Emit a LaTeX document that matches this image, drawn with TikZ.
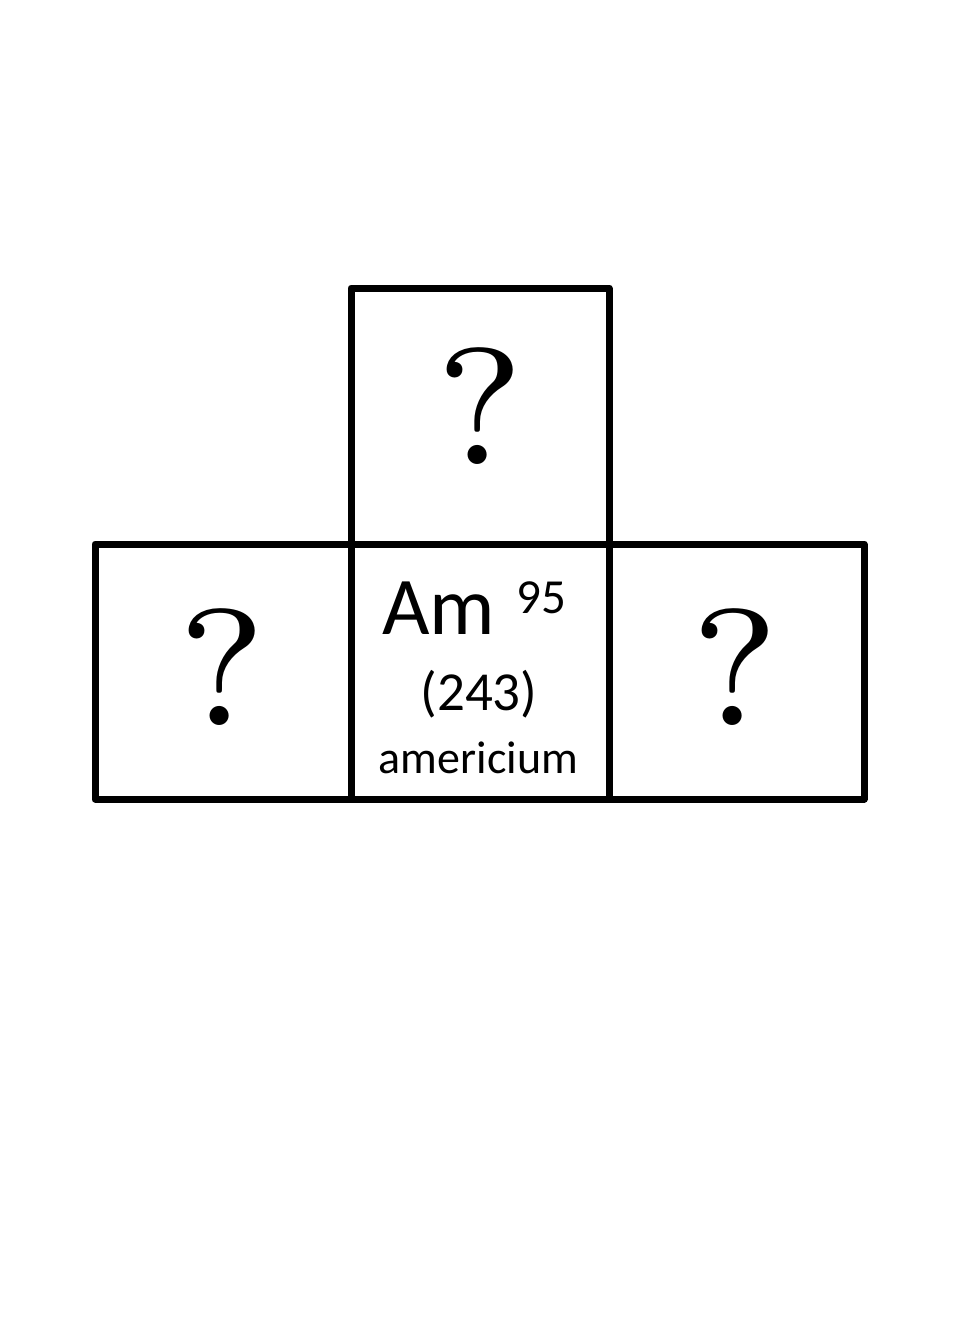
\documentclass[tikz,border=0pt]{standalone}
\usepackage{fontspec}
\newfontfamily\calfont[Numbers=Lining]{Carlito}
\newfontfamily\qfont{lmroman7-regular.otf}
\begin{document}
\begin{tikzpicture}[x=1pt,y=-1pt,
  cell/.style={draw=black,line width=7pt,line join=round,minimum width=258pt,minimum height=256pt,inner sep=0pt,outer sep=0pt},
  qmark/.style={inner sep=0pt,font=\qfont\fontsize{166}{170}\selectfont},
  sans/.style={inner sep=0pt}]
\useasboundingbox (0,0) rectangle (960,1344);
\fill[white] (0,0) rectangle (960,1344);
\node[cell,minimum width=256pt,minimum height=255pt] (left) at (223,671.5) {};
\node[cell,minimum height=255pt] (mid) at (480,671.5) {};
\node[cell,minimum width=255pt,minimum height=255pt] (right) at (736.5,671.5) {};
\node[cell] (top) at (480,416) {};
\node[qmark] (qtop) at (480,406) {?};
\node[qmark] (qleft) at (222.5,667) {?};
\node[qmark] (qright) at (735,667) {?};
\node[sans,anchor=base west,font=\calfont\fontsize{82}{90}\selectfont] (sym) at (382,634) {Am};
\node[sans,anchor=base west,font=\calfont\fontsize{49}{55}\selectfont] (num) at (516,613) {95};
\node[sans,anchor=base,font=\calfont\fontsize{55}{60}\selectfont] (mass) at (479,710) {(243)};
\node[sans,anchor=base,font=\calfont\fontsize{46}{50}\selectfont] (name) at (478.5,773) {americium};
\end{tikzpicture}
\end{document}
